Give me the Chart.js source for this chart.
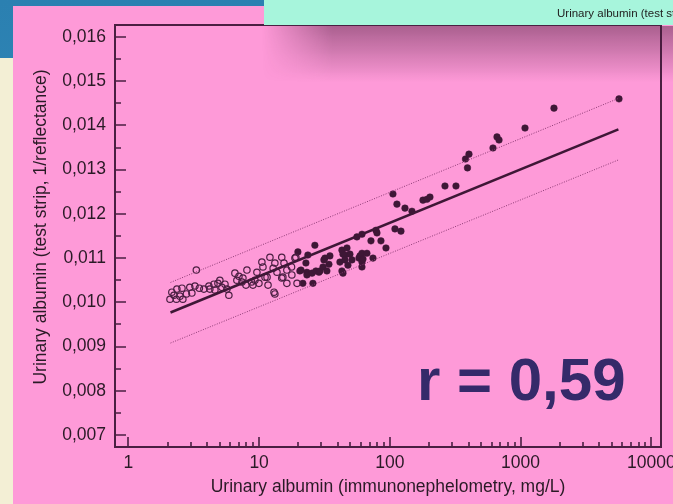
<!DOCTYPE html>
<html>
<head>
<meta charset="utf-8">
<script src="https://cdn.jsdelivr.net/npm/chart.js@4.4.1/dist/chart.umd.min.js"></script>
<style>
  html, body { margin: 0; padding: 0; }
  body { width: 673px; height: 504px; position: relative; overflow: hidden; background: linear-gradient(#2b80b1, #3792c0); }
  #beige { position: absolute; left: 0; top: 58px; width: 13px; height: 446px; background: #f3efd5; }
  #slide { position: absolute; left: 13px; top: 6px; width: 660px; height: 498px; background: #fe9ad8; }
  #shade {
    position: absolute; left: 262px; top: 26px; width: 411px; height: 56px;
    background: linear-gradient(rgba(70, 25, 55, 0.45), rgba(70, 25, 55, 0));
    -webkit-mask-image: linear-gradient(to right, transparent, #000 70px);
    mask-image: linear-gradient(to right, transparent, #000 70px);
  }
  #tab { position: absolute; left: 264px; top: 0; width: 409px; height: 25px; background: #a7f5dc; overflow: hidden; white-space: nowrap; }
  #tab span { position: absolute; left: 293px; top: 7px; font: 11.5px "Liberation Sans", Arial, sans-serif; color: #222; }
  #rval { position: absolute; left: 417px; top: 345px; font: bold 60px "Liberation Sans", Arial, sans-serif; color: #352a6a; white-space: nowrap; }
</style>
</head>
<body>
<div id="beige"></div>
<div id="slide"><canvas id="albumin-chart"></canvas></div>
<div id="shade"></div>
<div id="tab"><span>Urinary albumin (test strip, 1/reflectance)</span></div>
<div id="rval">r = 0,59</div>

<script>
// valori (x in mg/L, y = 1/riflettanza)
const openX = [2.08, 2.15, 2.23, 2.35, 2.33, 2.48, 2.57, 2.61, 2.78, 2.95, 3.06, 3.23, 3.31, 3.49, 3.78,
  4.13, 4.20, 4.51, 4.59, 4.84, 5.01, 5.19, 5.48, 5.67, 5.87, 6.53, 7.01, 6.76, 7.39, 7.52,
  8.07, 7.93, 8.76, 8.97, 9.29, 9.62, 9.97, 10.5, 10.7, 11.1, 11.5, 11.7, 12.1, 12.8, 13.0,
  13.2, 13.2, 13.7, 14.9, 14.9, 15.2, 15.5, 16.3, 16.3, 17.7, 17.8, 18.8, 19.1, 19.5];
const openY = [0.01007, 0.01023, 0.01016, 0.01030, 0.01007, 0.01014, 0.01032, 0.01007, 0.01019, 0.01034,
  0.01021, 0.01037, 0.01073, 0.01032, 0.01030, 0.01037, 0.01030, 0.01041, 0.01028, 0.01043,
  0.01050, 0.01034, 0.01041, 0.01030, 0.01016, 0.01066, 0.01059, 0.01050, 0.01046, 0.01055,
  0.01073, 0.01039, 0.01046, 0.01039, 0.01050, 0.01068, 0.01043, 0.01091, 0.01080, 0.01057,
  0.01057, 0.01039, 0.01102, 0.01077, 0.01023, 0.01089, 0.01019, 0.01068, 0.01102, 0.01055,
  0.01057, 0.01089, 0.01073, 0.01043, 0.01080, 0.01062, 0.01100, 0.01102, 0.01043];

const filledX = [19.8, 20.5, 20.9, 21.6, 22.8, 23.2, 23.2, 23.6, 25.4, 25.8, 26.7, 27.2, 28.7, 29.2,
  30.8, 31.3, 31.9, 33.0, 34.2, 34.8, 41.5, 43.0, 43.0, 43.8, 43.8, 45.3, 45.3, 47.0, 47.8,
  49.5, 51.3, 56.0, 58.0, 59.1, 61.2, 61.2, 61.2, 61.2, 62.3, 66.8, 71.7, 74.3, 78.3, 79.7,
  85.5, 93.4, 105.6, 109.4, 113.3, 121.6, 130.5, 147.6, 179.2, 192.3, 202.7, 264, 320.4,
  378.8, 392.4, 402.9, 615, 660, 684, 1081, 1801, 5660];
const filledY = [0.01114, 0.01071, 0.01073, 0.01043, 0.01089, 0.01068, 0.01062, 0.01107, 0.01066, 0.01043,
  0.01129, 0.01071, 0.01068, 0.01071, 0.01080, 0.01096, 0.01100, 0.01071, 0.01086, 0.01105,
  0.01091, 0.01118, 0.01071, 0.01066, 0.01109, 0.01107, 0.01096, 0.01123, 0.01084, 0.01109,
  0.01096, 0.01148, 0.01100, 0.01105, 0.01111, 0.01154, 0.01091, 0.01080, 0.01098, 0.01111,
  0.01139, 0.01100, 0.01163, 0.01157, 0.01139, 0.01123, 0.01245, 0.01166, 0.01222, 0.01161,
  0.01213, 0.01206, 0.01231, 0.01233, 0.01238, 0.01263, 0.01263, 0.01324, 0.01304, 0.01335,
  0.01349, 0.01374, 0.01367, 0.01394, 0.01439, 0.01460];

// retta di regressione e limiti (tratteggiati)
const fitX = [2.1, 5600];
const fitY = [0.00977, 0.01391];
const upperY = [0.01045, 0.01461];
const lowerY = [0.00908, 0.01322];

// tacche degli assi
const yMajor = [0.007, 0.008, 0.009, 0.010, 0.011, 0.012, 0.013, 0.014, 0.015, 0.016];
const yMinor = [0.0075, 0.0085, 0.0095, 0.0105, 0.0115, 0.0125, 0.0135, 0.0145, 0.0155];
const xMajor = [1, 10, 100, 1000, 10000];
const xMinor = [2, 3, 4, 5, 6, 7, 8, 9, 20, 30, 40, 50, 60, 70, 80, 90,
  200, 300, 400, 500, 600, 700, 800, 900, 2000, 3000, 4000, 5000, 6000, 7000, 8000, 9000];

const yTitle = "Urinary albumin (test strip, 1/reflectance)";
const xTitle = "Urinary albumin (immunonephelometry, mg/L)";

const toPoints = (xs, ys) => xs.map((x, i) => ({ x: x, y: ys[i] }));
const ink = "#3e1736";
const textColor = "#2a1a26";
const fontFamily = '"Liberation Sans", Arial, sans-serif';
const fontSize = 17.5;

// cornice, tacche rivolte verso l'interno e titolo dell'asse y
const frameTicks = {
  id: "frameTicks",
  afterDatasetsDraw(chart) {
    const { ctx, chartArea: a, scales } = chart;
    ctx.save();
    ctx.strokeStyle = "#4a1f42";
    ctx.lineWidth = 2;
    ctx.strokeRect(a.left, a.top, a.right - a.left, a.bottom - a.top);
    ctx.lineWidth = 1.6;
    ctx.beginPath();
    yMajor.forEach((v) => {
      const p = Math.round(scales.y.getPixelForValue(v));
      ctx.moveTo(a.left, p); ctx.lineTo(a.left + 11, p);
    });
    yMinor.forEach((v) => {
      const p = Math.round(scales.y.getPixelForValue(v));
      ctx.moveTo(a.left, p); ctx.lineTo(a.left + 6, p);
    });
    xMajor.forEach((v) => {
      const p = Math.round(scales.x.getPixelForValue(v));
      ctx.moveTo(p, a.bottom); ctx.lineTo(p, a.bottom - 10);
    });
    xMinor.forEach((v) => {
      const p = Math.round(scales.x.getPixelForValue(v));
      ctx.moveTo(p, a.bottom); ctx.lineTo(p, a.bottom - 5);
    });
    ctx.stroke();

    // titolo verticale, un po' sopra il centro dell'area
    ctx.translate(28, (a.top + a.bottom) / 2 - 9);
    ctx.rotate(-Math.PI / 2);
    ctx.fillStyle = textColor;
    ctx.font = fontSize + "px " + fontFamily;
    ctx.textAlign = "center";
    ctx.textBaseline = "middle";
    ctx.fillText(yTitle, 0, 0);
    ctx.restore();
  },
};

const ctx = document.getElementById("albumin-chart").getContext("2d");
const albuminChart = new Chart(ctx, {
  type: "scatter",
  data: {
    datasets: [
      {
        type: "line",
        data: toPoints(fitX, upperY),
        borderColor: "#8c3b74",
        borderWidth: 1,
        borderDash: [1, 1.5],
        pointRadius: 0,
      },
      {
        type: "line",
        data: toPoints(fitX, lowerY),
        borderColor: "#8c3b74",
        borderWidth: 1,
        borderDash: [1, 1.5],
        pointRadius: 0,
      },
      {
        type: "line",
        data: toPoints(fitX, fitY),
        borderColor: ink,
        borderWidth: 2.5,
        pointRadius: 0,
      },
      {
        data: toPoints(openX, openY),
        pointStyle: "circle",
        pointRadius: 3.2,
        borderWidth: 1.2,
        borderColor: "#4a1f42",
        backgroundColor: "rgba(0,0,0,0)",
      },
      {
        data: toPoints(filledX, filledY),
        pointStyle: "circle",
        pointRadius: 3.3,
        borderWidth: 0.5,
        borderColor: ink,
        backgroundColor: ink,
      },
    ],
  },
  options: {
    responsive: true,
    maintainAspectRatio: false,
    animation: false,
    layout: { padding: { top: 19, right: 12, left: 0, bottom: 0 } },
    plugins: {
      legend: { display: false },
      tooltip: { enabled: false },
    },
    scales: {
      x: {
        type: "logarithmic",
        min: 0.79,
        max: 11860,
        grid: { display: false, drawTicks: false },
        border: { display: false },
        afterBuildTicks: (scale) => {
          scale.ticks = xMajor.map((v) => ({ value: v }));
        },
        afterFit: (scale) => {
          scale.height = 57;
          scale.paddingLeft = 0;
          scale.paddingRight = 0;
        },
        ticks: {
          autoSkip: false,
          maxRotation: 0,
          padding: 6,
          color: textColor,
          font: { family: fontFamily, size: fontSize },
          callback: (value) => String(value),
        },
        title: {
          display: true,
          text: xTitle,
          color: textColor,
          font: { family: fontFamily, size: fontSize },
          padding: { top: 0, bottom: 6.5 },
        },
      },
      y: {
        min: 0.00673,
        max: 0.01627,
        grid: { display: false, drawTicks: false },
        border: { display: false },
        afterBuildTicks: (scale) => {
          scale.ticks = yMajor.map((v) => ({ value: v }));
        },
        afterFit: (scale) => {
          scale.width = 102;
          scale.paddingTop = 0;
          scale.paddingBottom = 0;
        },
        ticks: {
          padding: 9,
          color: textColor,
          font: { family: fontFamily, size: fontSize },
          callback: (value) => value.toFixed(3).replace(".", ","),
        },
      },
    },
  },
  plugins: [frameTicks],
});
</script>
</body>
</html>
